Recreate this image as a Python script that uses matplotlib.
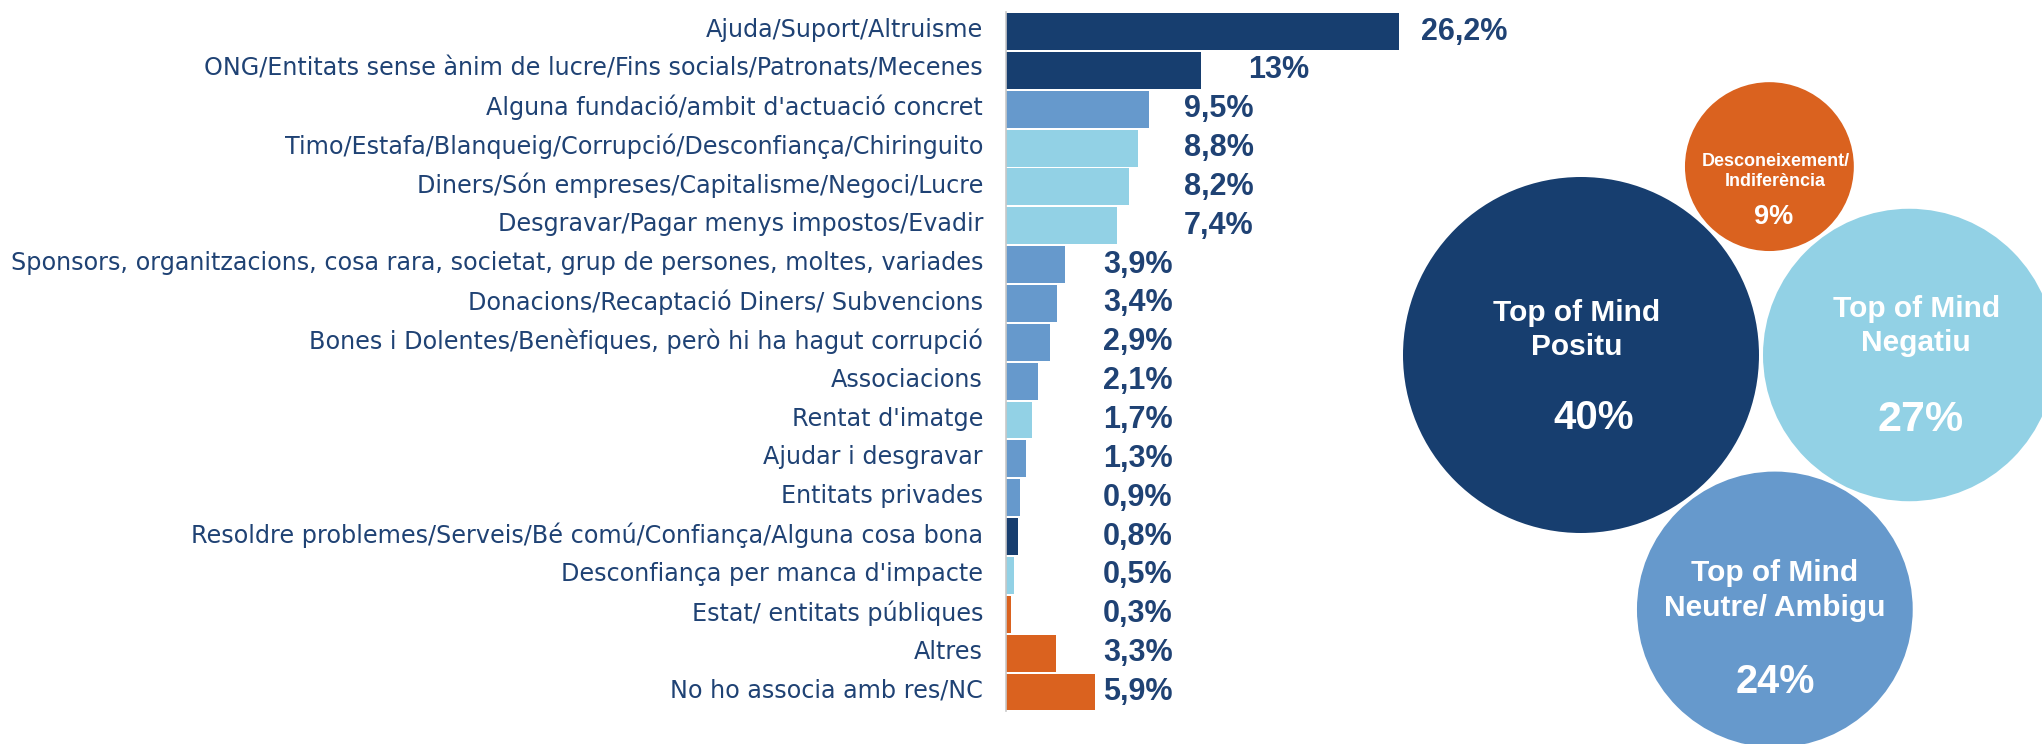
import numpy as np
import matplotlib.pyplot as plt
from matplotlib.patches import Circle

plt.rcParams['font.family'] = ['Liberation Sans', 'DejaVu Sans']

# -------------------------
# DATA
# -------------------------
categories = [
    "Ajuda/Suport/Altruisme",
    "ONG/Entitats sense ànim de lucre/Fins socials/Patronats/Mecenes",
    "Alguna fundació/ambit d'actuació concret",
    "Timo/Estafa/Blanqueig/Corrupció/Desconfiança/Chiringuito",
    "Diners/Són empreses/Capitalisme/Negoci/Lucre",
    "Desgravar/Pagar menys impostos/Evadir",
    "Sponsors, organitzacions, cosa rara, societat, grup de persones, moltes, variades",
    "Donacions/Recaptació Diners/ Subvencions",
    "Bones i Dolentes/Benèfiques, però hi ha hagut corrupció",
    "Associacions",
    "Rentat d'imatge",
    "Ajudar i desgravar",
    "Entitats privades",
    "Resoldre problemes/Serveis/Bé comú/Confiança/Alguna cosa bona",
    "Desconfiança per manca d'impacte",
    "Estat/ entitats públiques",
    "Altres",
    "No ho associa amb res/NC",
]
values = [26.2, 13, 9.5, 8.8, 8.2, 7.4, 3.9, 3.4, 2.9, 2.1,
          1.7, 1.3, 0.9, 0.8, 0.5, 0.3, 3.3, 5.9]
groups = ["pos", "pos", "neu", "neg", "neg", "neg", "neu", "neu", "neu", "neu",
          "neg", "neu", "neu", "pos", "neg", "unk", "unk", "unk"]

bubble_labels = ["Top of Mind\nPositu", "Top of Mind\nNegatiu",
                 "Top of Mind\nNeutre/ Ambigu", "Desconeixement/\nIndiferència"]
bubble_values = [40, 27, 24, 9]
bubble_groups = ["pos", "neg", "neu", "unk"]

# -------------------------
# STYLE
# -------------------------
colors = {"pos": "#173E6F", "neu": "#6699CC", "neg": "#92D1E5", "unk": "#DA621F"}
navy = "#1F4274"

W, H = 2042, 744
fig = plt.figure(figsize=(W / 100, H / 100), dpi=100)

# bubble layer in pixel coordinates
axb = fig.add_axes([0, 0, 1, 1])
axb.set_xlim(0, W)
axb.set_ylim(H, 0)
axb.axis("off")

# -------------------------
# BARS
# -------------------------
px_left, px_width = 1006, 510
px_top, px_bot = 12.1, 711.4
ax = fig.add_axes([px_left / W, (H - px_bot) / H, px_width / W, (px_bot - px_top) / H])
ax.patch.set_alpha(0)

y = np.arange(len(values))
ax.barh(y, values, height=0.95, color=[colors[g] for g in groups], zorder=2)
ax.set_xlim(0, 34)
ax.set_ylim(len(values) - 0.5, -0.5)

for s in ["top", "right", "bottom"]:
    ax.spines[s].set_visible(False)
ax.spines["left"].set_color("#C8C8C8")
ax.spines["left"].set_linewidth(1.2)
ax.set_xticks([])
ax.set_yticks([])

# category labels, right-aligned left of the axis
for i, cat in enumerate(categories):
    ax.annotate(cat, (0, i), xytext=(-23, 1.5), textcoords="offset pixels",
                ha="right", va="center", fontsize=17.2, color=navy,
                fontfamily="DejaVu Sans", annotation_clip=False)


def label_right(v):
    # value labels sit in a few right-aligned columns
    if v < 6:
        return 11.1
    if v < 10:
        return 16.5
    return v + 7.2


for i, v in enumerate(values):
    txt = f"{v:g}".replace(".", ",") + "%"
    ax.text(label_right(v), i, txt, ha="right", va="center",
            fontsize=22, fontweight="bold", color=navy, clip_on=False)

# -------------------------
# BUBBLES
# -------------------------
r_max = 178
radii = [r_max * np.sqrt(v / bubble_values[0]) for v in bubble_values]
cx0, cy0 = 1581, 355
gap = 4
angles = [None, 0, -52.7, 45]  # around the largest bubble
centers = [(cx0, cy0)]
for r, a in zip(radii[1:], angles[1:]):
    d = radii[0] + r + gap
    centers.append((cx0 + d * np.cos(np.radians(a)), cy0 - d * np.sin(np.radians(a))))

# text offsets (label dx, dy, pct dx, dy) and font sizes per bubble
offs = [(-4, -25, 13, 63), (7, -29, 11, 65), (0, -19, 0, 73), (6, 5, 4, 50)]
fs_lab = [21.5, 21.5, 21.5, 13]
fs_pct = [29, 31, 28.5, 19.5]

for (cx, cy), r, g, lab, v, o, fl, fp in zip(centers, radii, bubble_groups, bubble_labels,
                                              bubble_values, offs, fs_lab, fs_pct):
    axb.add_patch(Circle((cx, cy), r, color=colors[g], lw=0))
    axb.text(cx + o[0], cy + o[1], lab, ha="center", va="center", color="white",
             fontsize=fl, fontweight="bold", linespacing=1.28)
    axb.text(cx + o[2], cy + o[3], f"{v}%", ha="center", va="center", color="white",
             fontsize=fp, fontweight="bold")

plt.savefig("out.png", dpi=100)
